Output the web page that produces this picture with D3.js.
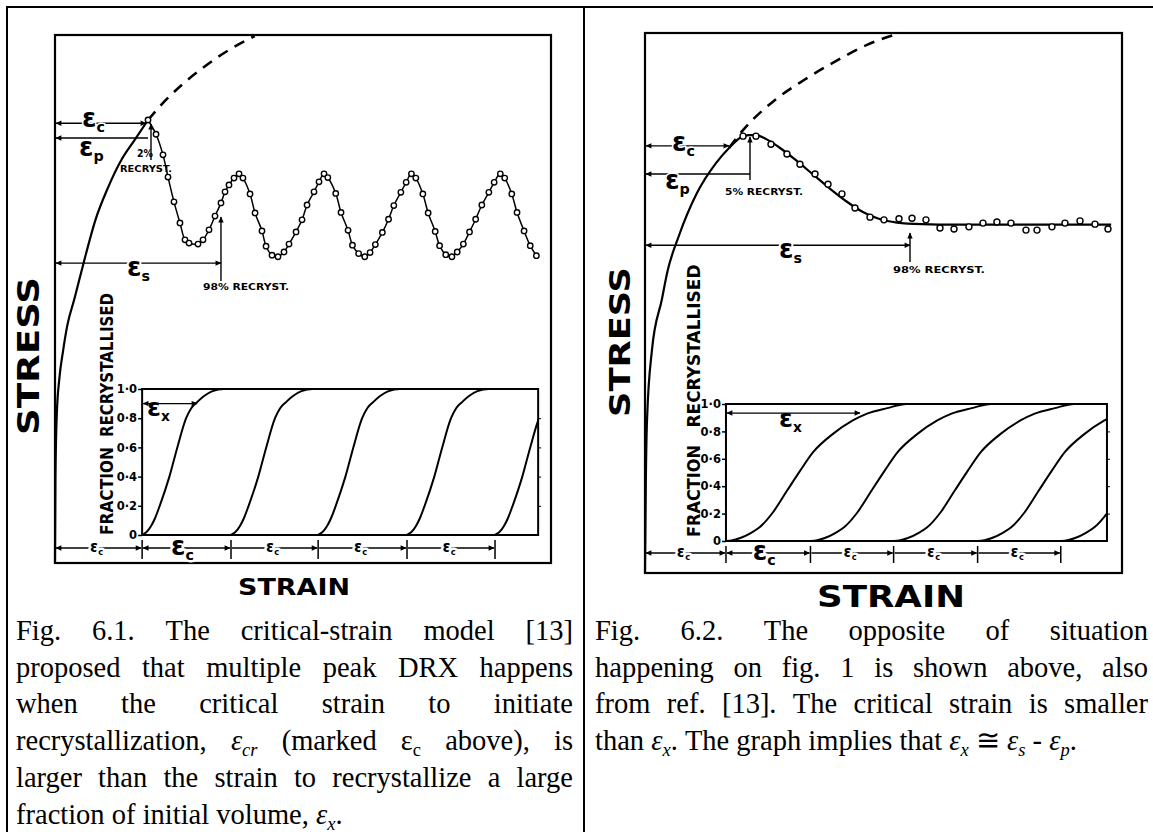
<!DOCTYPE html>
<html>
<head>
<meta charset="utf-8">
<script src="https://cdn.jsdelivr.net/npm/d3@7"></script>
<style>
  html, body { margin: 0; padding: 0; background: #fff; }
  svg { display: block; }
  .hand { font-family: "DejaVu Sans"; font-weight: bold; fill: #000; }
</style>
</head>
<body>
<svg id="fig" width="1153" height="832"></svg>
<script>
// ---------- Fig. 6.1 : multiple-peak flow (epsilon_c > epsilon_x) ----------
// strain in units of the critical strain, stress as a fraction of the frame height
const leftFlowStrain = [0, 0.005, 0.02, 0.05, 0.09, 0.14, 0.22, 0.32, 0.46, 0.60, 0.76, 0.90, 1.057];
const leftFlowStress = [0, 0.16, 0.28, 0.35, 0.40, 0.45, 0.50, 0.565, 0.65, 0.71, 0.765, 0.80, 0.839];
const leftHardStrain = [1.057, 1.26, 1.45, 1.65, 1.98, 2.27];
const leftHardStress = [0.839, 0.877, 0.907, 0.934, 0.972, 0.998];
const leftPointStrain = [
  1.057, 1.148, 1.227, 1.284, 1.352, 1.420, 1.477, 1.523, 1.625, 1.682, 1.750, 1.818, 1.886, 1.932, 1.977, 2.034, 2.091,
  2.136, 2.216, 2.273, 2.352, 2.398, 2.466, 2.534, 2.602, 2.659, 2.739, 2.807, 2.864, 2.943, 3.000, 3.057,
  3.10, 3.19, 3.25, 3.33, 3.38, 3.45, 3.52, 3.58, 3.64, 3.72, 3.79, 3.85, 3.93, 3.99, 4.05,
  4.10, 4.18, 4.24, 4.32, 4.37, 4.44, 4.51, 4.57, 4.64, 4.71, 4.78, 4.85, 4.93, 4.99, 5.06,
  5.11, 5.19, 5.25, 5.33, 5.40, 5.47
];
const leftPointStress = [
  0.839, 0.812, 0.773, 0.731, 0.684, 0.644, 0.612, 0.606, 0.604, 0.612, 0.631, 0.657, 0.682, 0.703, 0.716, 0.729, 0.737,
  0.729, 0.699, 0.663, 0.629, 0.600, 0.583, 0.580, 0.589, 0.604, 0.627, 0.650, 0.678, 0.703, 0.722, 0.737,
  0.730, 0.700, 0.664, 0.630, 0.602, 0.586, 0.580, 0.588, 0.603, 0.626, 0.651, 0.677, 0.702, 0.721, 0.737,
  0.729, 0.699, 0.663, 0.628, 0.601, 0.584, 0.580, 0.589, 0.604, 0.627, 0.651, 0.678, 0.702, 0.721, 0.737,
  0.729, 0.699, 0.664, 0.629, 0.601, 0.582
];
const leftOnsets = [0.99, 2.0, 2.99, 4.0, 5.0];
// recrystallisation kinetics after each onset (strain past onset, fraction)
const leftXrxStrain = [0, 0.05, 0.10, 0.15, 0.20, 0.31, 0.40, 0.50, 0.56, 0.625, 0.70, 0.80, 0.93, 2.0];
const leftXrxFrac   = [0, 0.02, 0.06, 0.12, 0.20, 0.40, 0.60, 0.80, 0.87, 0.91, 0.95, 0.985, 1.0, 1.0];
const leftMarks = { critStrain: 1.034, critStress: 0.833, peakStrain: 1.057, peakStress: 0.805,
                    steadyStrain: 1.886, steadyStress: 0.568, xStrain: 1.614, xFrac: 0.9 };

// ---------- Fig. 6.2 : single-peak flow (epsilon_c < epsilon_x) ----------
const rightFlowStrain = [0, 0.01, 0.024, 0.083, 0.20, 0.27, 0.405, 0.62, 0.845, 1.012, 1.143, 1.238, 1.32, 1.45, 1.60,
  1.80, 2.00, 2.20, 2.40, 2.60, 2.80, 3.00, 3.30, 3.70, 4.20, 4.80, 5.55];
const rightFlowStress = [0, 0.17, 0.283, 0.413, 0.506, 0.56, 0.625, 0.704, 0.759, 0.789, 0.807, 0.811, 0.811, 0.803, 0.788,
  0.764, 0.738, 0.712, 0.688, 0.668, 0.655, 0.649, 0.646, 0.645, 0.645, 0.645, 0.645];
const rightHardStrain = [1.0, 1.167, 1.548, 1.893, 2.25, 2.643, 3.036];
const rightHardStress = [0.787, 0.820, 0.876, 0.913, 0.946, 0.978, 1.0];
const rightPointStrain = [1.167, 1.321, 1.50, 1.69, 1.845, 2.024, 2.179, 2.345, 2.50, 2.679, 2.845, 3.024, 3.179, 3.345,
  3.512, 3.679, 3.857, 4.024, 4.19, 4.357, 4.536, 4.667, 4.845, 5.0, 5.179, 5.357, 5.512];
const rightPointStress = [0.809, 0.809, 0.794, 0.776, 0.757, 0.739, 0.720, 0.702, 0.676, 0.659, 0.654, 0.656, 0.657, 0.654,
  0.639, 0.637, 0.641, 0.648, 0.650, 0.648, 0.635, 0.635, 0.641, 0.648, 0.652, 0.646, 0.637];
const rightOnsets = [0.964, 1.97, 2.96, 3.96, 4.95];
const rightXrxStrain = [0, 0.08, 0.17, 0.30, 0.40, 0.56, 0.73, 0.88, 1.04, 1.27, 1.51, 1.68, 1.92, 2.15, 3.0];
const rightXrxFrac   = [0, 0.006, 0.022, 0.06, 0.10, 0.21, 0.37, 0.51, 0.65, 0.78, 0.88, 0.93, 0.97, 1.0, 1.0];
const rightMarks = { critStrain: 1.0, critStress: 0.791, peakStrain: 1.25, peakStress: 0.739,
                     steadyStrain: 3.155, steadyStress: 0.607, xStrain: 2.56, xFrac: 0.934 };

const fracTicks = [0, 0.2, 0.4, 0.6, 0.8, 1.0];
const fracTickLabels = ["0", "0·2", "0·4", "0·6", "0·8", "1·0"];

const caption61 = [
  "Fig. 6.1. The critical-strain model [13]",
  "proposed that multiple peak DRX happens",
  "when the critical strain to initiate",
  "recrystallization, [i]ε_{cr}[i] (marked ε_{c} above), is",
  "larger than the strain to recrystallize a large",
  "fraction of initial volume, [i]ε_{x}[i]."
];
const caption62 = [
  "Fig. 6.2. The opposite of situation",
  "happening on fig. 1 is shown above, also",
  "from ref. [13]. The critical strain is smaller",
  "than [i]ε_{x}[i]. The graph implies that [i]ε_{x}[i] ≅ [i]ε_{s}[i] - [i]ε_{p}[i]."
];

// ---------------------------------------------------------------
const W = 1153, H = 832;
const svg = d3.select("#fig");
const defs = svg.append("defs");
defs.append("marker").attr("id", "ah")
  .attr("viewBox", "0 0 10 10").attr("refX", 9).attr("refY", 5)
  .attr("markerWidth", 8).attr("markerHeight", 6).attr("markerUnits", "userSpaceOnUse")
  .attr("orient", "auto-start-reverse")
  .append("path").attr("d", "M0,0.5 L10,5 L0,9.5 Z").attr("fill", "#000");

// table rules
const rules = svg.append("g").attr("stroke", "#000").attr("stroke-width", 2);
rules.append("line").attr("x1", 7).attr("x2", W).attr("y1", 7).attr("y2", 7);
rules.append("line").attr("x1", 7).attr("x2", 7).attr("y1", 6).attr("y2", H);
rules.append("line").attr("x1", 584).attr("x2", 584).attr("y1", 6).attr("y2", H);

function halo(sel, w) {
  return sel.attr("stroke", "#fff").attr("stroke-width", w).attr("stroke-linejoin", "round").attr("paint-order", "stroke");
}

function epsText(g, x, y, sub, size, anchor, haloW) {
  const t = g.append("text").attr("class", "hand").attr("x", x).attr("y", y)
    .attr("font-size", size).attr("text-anchor", anchor || "start");
  t.append("tspan").text("ε");
  t.append("tspan").attr("font-size", size * 0.55).attr("dy", size * 0.2).text(sub);
  if (haloW) halo(t, haloW);
  return t;
}

function hArrow(g, x1, x2, y, start, end, w) {
  const l = g.append("line").attr("x1", x1).attr("x2", x2).attr("y1", y).attr("y2", y)
    .attr("stroke", "#000").attr("stroke-width", w || 1.4);
  if (start) l.attr("marker-start", "url(#ah)");
  if (end) l.attr("marker-end", "url(#ah)");
  return l;
}
function vArrow(g, x, y1, y2) {
  g.append("line").attr("x1", x).attr("x2", x).attr("y1", y2).attr("y2", y1)
    .attr("stroke", "#000").attr("stroke-width", 1.4).attr("marker-end", "url(#ah)");
}

function rotLabel(g, text, cx, cy, size, len) {
  g.append("text").attr("class", "hand")
    .attr("transform", `translate(${cx},${cy}) rotate(-90)`)
    .attr("text-anchor", "middle").attr("dominant-baseline", "central")
    .attr("font-size", size).attr("textLength", len).attr("lengthAdjust", "spacingAndGlyphs")
    .text(text);
}

function panel(c) {
  const g = svg.append("g");
  const x = d3.scaleLinear().domain([0, c.strainMax]).range([c.frame.left, c.frame.right]);
  const y = d3.scaleLinear().domain([0, 1]).range([c.frame.bottom, c.frame.top]);
  const fy = d3.scaleLinear().domain([0, 1]).range([c.inset.bottom, c.inset.top]);
  const zip = (a, b) => a.map((v, i) => [v, b[i]]);

  // outer frame
  g.append("rect").attr("x", x(0)).attr("y", y(1)).attr("width", x(c.strainMax) - x(0)).attr("height", y(0) - y(1))
    .attr("fill", "none").attr("stroke", "#000").attr("stroke-width", 2.2);

  // inset: fraction recrystallised
  const ix0 = x(c.onsets[0]), ix1 = x(c.insetEnd);
  const clipId = "clip" + c.id;
  defs.append("clipPath").attr("id", clipId).append("rect")
    .attr("x", ix0).attr("y", fy(1) - 2).attr("width", ix1 - ix0).attr("height", fy(0) - fy(1) + 2);
  const kin = d3.line().x(d => x(d[0])).y(d => fy(d[1])).curve(d3.curveMonotoneX);
  const kg = g.append("g").attr("clip-path", `url(#${clipId})`);
  c.onsets.forEach(o => {
    const pts = c.xrxStrain.map((s, i) => [o + s, c.xrxFrac[i]]);
    kg.append("path").attr("d", kin(pts)).attr("fill", "none").attr("stroke", "#000").attr("stroke-width", 2);
  });
  g.append("rect").attr("x", ix0).attr("y", fy(1)).attr("width", ix1 - ix0).attr("height", fy(0) - fy(1))
    .attr("fill", "none").attr("stroke", "#000").attr("stroke-width", 2);

  const ax = g.append("g").attr("transform", `translate(${ix0},0)`)
    .call(d3.axisLeft(fy).tickValues(fracTicks).tickFormat((d, i) => fracTickLabels[i]).tickSize(4).tickPadding(1));
  ax.select(".domain").remove();
  ax.selectAll("line").attr("stroke-width", 1.5);
  ax.selectAll("text").attr("class", "hand").attr("font-size", 11.5).attr("font-weight", "bold")
    .style("font-family", '"DejaVu Sans"');
  const axr = g.append("g").attr("transform", `translate(${ix1},0)`)
    .call(d3.axisRight(fy).tickValues(fracTicks.slice(1, 5)).tickFormat("").tickSize(3));
  axr.select(".domain").remove();

  // epsilon_x span on the first transformation curve
  hArrow(g, ix0 + 1, x(c.marks.xStrain), fy(c.marks.xFrac), true, true, 1.3);
  epsText(g, c.xLabel[0], c.xLabel[1], "x", 25, "start");

  // flow curve, hardening extrapolation, measured points
  const line = d3.line().x(d => x(d[0])).y(d => y(d[1]));
  g.append("path").attr("d", line.curve(d3.curveMonotoneX)(zip(c.flowStrain, c.flowStress)))
    .attr("fill", "none").attr("stroke", "#000").attr("stroke-width", 2.2);
  g.append("path").attr("d", line.curve(d3.curveMonotoneX)(zip(c.hardStrain, c.hardStress)))
    .attr("fill", "none").attr("stroke", "#000").attr("stroke-width", 2.6).attr("stroke-dasharray", "11,8");
  const pts = zip(c.pointStrain, c.pointStress);
  if (c.joinPoints) {
    g.append("path").attr("d", line.curve(d3.curveCatmullRom)(pts))
      .attr("fill", "none").attr("stroke", "#000").attr("stroke-width", 1.5);
  }
  g.selectAll(null).data(pts).enter().append("circle")
    .attr("cx", d => x(d[0])).attr("cy", d => y(d[1])).attr("r", c.dotR)
    .attr("fill", "#fff").attr("stroke", "#000").attr("stroke-width", 1.4);

  // strain markers
  const m = c.marks;
  hArrow(g, x(0) + 1, x(m.critStrain), y(m.critStress), true, true);
  epsText(g, c.cLabel[0], c.cLabel[1], "c", 26, "start", 3);
  hArrow(g, x(0) + 1, x(m.peakStrain), y(m.peakStress), true, false);
  epsText(g, c.pLabel[0], c.pLabel[1], "p", 26, "start", 3);
  vArrow(g, c.peakTick[0], c.peakTick[1], c.peakTick[2]);
  hArrow(g, x(0) + 1, x(m.steadyStrain), y(m.steadyStress), true, true);
  epsText(g, c.sLabel[0], c.sLabel[1], "s", 26, "start", 4);
  vArrow(g, x(m.steadyStrain), c.steadyTick[0], c.steadyTick[1]);

  c.notes.forEach(n => {
    g.append("text").attr("class", "hand").attr("x", n.x).attr("y", n.y).attr("font-size", n.size)
      .attr("textLength", n.len).attr("lengthAdjust", "spacingAndGlyphs").text(n.text);
  });

  // strain row below the inset: one epsilon_c per cycle
  const ticks = [0].concat(c.onsets);
  ticks.slice(1).forEach(t => {
    g.append("line").attr("x1", x(t)).attr("x2", x(t)).attr("y1", c.row.top).attr("y2", c.row.bottom)
      .attr("stroke", "#000").attr("stroke-width", 1.5);
  });
  for (let i = 0; i < ticks.length - 1; i++) {
    const a = x(ticks[i]) + 1, b = x(ticks[i + 1]) - 1;
    hArrow(g, a, b, c.row.y, i < 2, true, 1.3);
    const big = i === 1;
    epsText(g, (a + b) / 2 - (big ? 4 : 2), c.row.y + (big ? 7 : 4), "c", big ? 26 : 15, "middle", 5);
  }

  // axis titles
  rotLabel(g, "STRESS", c.stressTitle[0], c.stressTitle[1], c.stressTitle[2], c.stressTitle[3]);
  rotLabel(g, "FRACTION", c.fracTitle[0], c.fracTitle[1], 18, c.fracTitle[2]);
  rotLabel(g, "RECRYSTALLISED", c.fracTitle[0], c.fracTitle[3], 18, c.fracTitle[4]);
  g.append("text").attr("class", "hand").attr("x", c.strainTitle[0]).attr("y", c.strainTitle[1])
    .attr("text-anchor", "middle").attr("font-size", c.strainTitle[2])
    .attr("textLength", c.strainTitle[3]).attr("lengthAdjust", "spacingAndGlyphs").text("STRAIN");
}

panel({
  id: "L", strainMax: 5.636, dotR: 2.7,
  frame: { left: 55, right: 551, top: 35, bottom: 563 },
  inset: { top: 389, bottom: 535 }, insetEnd: 5.49,
  onsets: leftOnsets, xrxStrain: leftXrxStrain, xrxFrac: leftXrxFrac,
  flowStrain: leftFlowStrain, flowStress: leftFlowStress,
  hardStrain: leftHardStrain, hardStress: leftHardStress,
  pointStrain: leftPointStrain, pointStress: leftPointStress, joinPoints: true,
  marks: leftMarks,
  cLabel: [82, 127], pLabel: [79, 156], sLabel: [127, 276], xLabel: [147, 416],
  peakTick: [151, 124, 160], steadyTick: [217, 281],
  notes: [
    { text: "2%", x: 137, y: 157, size: 10, len: 16 },
    { text: "RECRYST.", x: 120, y: 172, size: 9, len: 52 },
    { text: "98% RECRYST.", x: 203, y: 290, size: 9.5, len: 86 }
  ],
  row: { y: 548, top: 540, bottom: 559 },
  stressTitle: [28, 356, 30, 158],
  fracTitle: [106, 491, 88, 365, 144],
  strainTitle: [294, 595, 23, 112]
});

panel({
  id: "R", strainMax: 5.679, dotR: 3,
  frame: { left: 645, right: 1122, top: 33, bottom: 573 },
  inset: { top: 404, bottom: 541 }, insetEnd: 5.5,
  onsets: rightOnsets, xrxStrain: rightXrxStrain, xrxFrac: rightXrxFrac,
  flowStrain: rightFlowStrain, flowStress: rightFlowStress,
  hardStrain: rightHardStrain, hardStress: rightHardStress,
  pointStrain: rightPointStrain, pointStress: rightPointStress, joinPoints: false,
  marks: rightMarks,
  cLabel: [672, 151], pLabel: [665, 189], sLabel: [779, 258], xLabel: [779, 427],
  peakTick: [750, 137, 180], steadyTick: [233, 262],
  notes: [
    { text: "5% RECRYST.", x: 725, y: 195, size: 9.5, len: 78 },
    { text: "98% RECRYST.", x: 893, y: 273, size: 9.5, len: 92 }
  ],
  row: { y: 553, top: 546, bottom: 563 },
  stressTitle: [620, 342, 29, 150],
  fracTitle: [693, 491, 92, 346, 163],
  strainTitle: [891, 607, 31, 148]
});

// ---------- captions (justified like the source document) ----------
function parseWords(str) {
  let italic = false;
  return str.split(" ").map(raw => {
    const runs = [];
    let buf = "", i = 0;
    const flush = () => { if (buf) { runs.push({ t: buf, it: italic, sub: false }); buf = ""; } };
    while (i < raw.length) {
      if (raw.startsWith("[i]", i)) { flush(); italic = !italic; i += 3; }
      else if (raw.startsWith("_{", i)) {
        flush();
        const j = raw.indexOf("}", i);
        runs.push({ t: raw.slice(i + 2, j), it: italic, sub: true });
        i = j + 1;
      } else { buf += raw[i]; i++; }
    }
    flush();
    return runs;
  });
}

const CAP_SIZE = 28.5, SUB_SIZE = 18.5, SUB_DROP = 6;

function writeWord(g, runs, xPos, yPos) {
  const t = g.append("text").attr("x", xPos).attr("y", yPos)
    .attr("font-family", "Liberation Serif").attr("font-size", CAP_SIZE).attr("fill", "#000")
    .style("font-family", '"Liberation Serif"');
  let inSub = false;
  runs.forEach(r => {
    const ts = t.append("tspan").text(r.t);
    if (r.it) ts.attr("font-style", "italic");
    if (r.sub) ts.attr("font-size", SUB_SIZE);
    if (r.sub && !inSub) ts.attr("dy", SUB_DROP);
    if (!r.sub && inSub) ts.attr("dy", -SUB_DROP);
    inSub = r.sub;
  });
  return t;
}

function caption(lines, x0, x1, y0, lh) {
  const g = svg.append("g");
  lines.forEach((ln, li) => {
    const words = parseWords(ln);
    const yPos = y0 + li * lh;
    const nodes = words.map(w => writeWord(g, w, 0, yPos));
    const widths = nodes.map(n => n.node().getComputedTextLength());
    const total = d3.sum(widths);
    const last = li === lines.length - 1;
    const gap = last ? CAP_SIZE * 0.25 : (x1 - x0 - total) / (words.length - 1);
    let cx = x0;
    nodes.forEach((n, i) => { n.attr("x", cx); cx += widths[i] + gap; });
  });
}

caption(caption61, 16, 573, 640, 36.7);
caption(caption62, 595, 1148, 640, 36.7);
</script>
</body>
</html>
